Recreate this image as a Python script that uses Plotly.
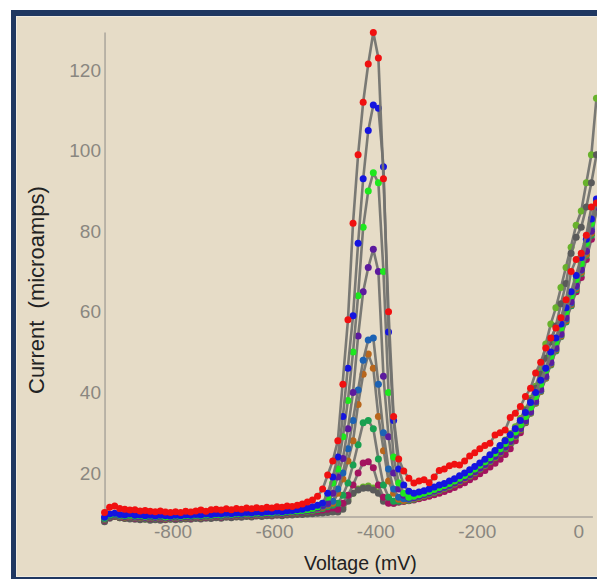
import plotly.graph_objects as go

# ---------------- data ----------------
voltage = [-935, -925, -915, -905, -895, -885, -875, -865, -855, -845,
           -835, -825, -815, -805, -795, -785, -775, -765, -755, -745,
           -735, -725, -715, -705, -695, -685, -675, -665, -655, -645,
           -635, -625, -615, -605, -595, -585, -575, -565, -555, -545,
           -535, -525, -515, -505, -495, -485, -475, -465, -455, -445,
           -435, -425, -415, -405, -395, -385, -375, -365, -355, -345,
           -335, -325, -315, -305, -295, -285, -275, -265, -255, -245,
           -235, -225, -215, -205, -195, -185, -175, -165, -155, -145,
           -135, -125, -115, -105, -95, -85, -75, -65, -55, -45,
           -35, -25, -15, -5, 5, 15, 25, 35]

olive = [8.2, 9.0, 9.2, 8.9, 8.8, 8.9, 8.7, 8.8, 8.6, 8.7,
         8.6, 8.7, 8.5, 8.6, 8.7, 8.6, 8.8, 8.7, 8.9, 8.8,
         9.0, 8.9, 9.1, 9.0, 9.2, 9.1, 9.3, 9.2, 9.4, 9.3,
         9.5, 9.4, 9.6, 9.5, 9.7, 9.6, 9.8, 9.9, 10.0, 10.1,
         10.2, 10.3, 10.4, 10.5, 10.6, 10.6, 10.5, 11.5, 13.5, 15.0,
         16.0, 16.5, 16.8, 16.3, 15.3, 13.5, 13.0, 13.0, 13.2, 13.5,
         13.7, 14.0, 14.4, 14.8, 15.3, 15.8, 16.3, 16.8, 17.3, 17.9,
         18.5, 19.2, 20.0, 20.9, 21.9, 23.0, 24.2, 25.4, 26.7, 28.2,
         29.8, 31.5, 33.5, 35.8, 38.5, 41.5, 45.5, 52.0, 57.0, 61.0,
         66.0, 71.0, 76.0, 81.5, 85.0, 92.0, 99.0, 113.0]

dark_gray = [7.9, 8.8, 9.2, 8.9, 8.7, 8.6, 8.5, 8.4, 8.5, 8.3,
             8.4, 8.3, 8.4, 8.5, 8.4, 8.5, 8.6, 8.5, 8.7, 8.6,
             8.8, 8.7, 8.9, 8.8, 9.0, 8.9, 9.1, 9.0, 9.2, 9.1,
             9.3, 9.2, 9.4, 9.3, 9.5, 9.4, 9.6, 9.6, 9.7, 9.7,
             9.8, 9.9, 10.0, 10.1, 10.2, 10.3, 10.3, 11.0, 13.0, 15.0,
             15.8, 16.2, 16.3, 15.8, 15.0, 13.0, 12.6, 12.5, 12.8, 13.0,
             13.3, 13.8, 14.0, 14.5, 15.2, 15.5, 16.0, 16.5, 16.8, 17.2,
             17.8, 18.5, 19.5, 20.5, 22.0, 23.0, 24.0, 25.0, 26.5, 28.0,
             29.5, 31.0, 33.0, 35.5, 38.0, 41.0, 44.5, 48.5, 52.5, 56.5,
             62.0, 67.0, 74.5, 78.5, 81.0, 86.0, 92.0, 99.0]

maroon = [8.3, 9.1, 9.3, 9.0, 8.9, 9.0, 8.8, 8.9, 8.7, 8.8,
          8.7, 8.8, 8.6, 8.7, 8.8, 8.7, 8.9, 8.8, 9.0, 8.9,
          9.1, 9.0, 9.2, 9.1, 9.3, 9.2, 9.4, 9.3, 9.5, 9.4,
          9.6, 9.5, 9.7, 9.6, 9.8, 9.7, 9.9, 10.0, 10.1, 10.2,
          10.3, 10.4, 10.6, 10.8, 11.0, 11.3, 11.0, 12.5, 14.5, 17.0,
          20.0, 22.5, 22.8, 21.3, 17.0, 14.0, 12.5, 12.5, 12.8, 13.0,
          13.1, 13.3, 13.6, 13.9, 14.2, 14.6, 15.0, 15.4, 15.9, 16.4,
          17.0, 17.6, 18.3, 19.0, 19.8, 20.6, 21.5, 22.4, 23.4, 24.6,
          26.0, 28.0, 30.0, 32.5, 35.3, 38.5, 42.0, 45.5, 48.5, 51.5,
          55.0, 59.0, 61.5, 65.0, 68.5, 73.0, 78.0, 85.5]

teal = [8.4, 9.2, 9.4, 9.1, 9.0, 9.1, 8.9, 9.0, 8.8, 8.9,
        8.8, 8.9, 8.7, 8.8, 8.9, 8.8, 9.0, 8.9, 9.1, 9.0,
        9.2, 9.1, 9.3, 9.2, 9.4, 9.3, 9.5, 9.4, 9.6, 9.5,
        9.7, 9.6, 9.8, 9.7, 9.9, 9.8, 10.0, 10.1, 10.2, 10.3,
        10.4, 10.6, 10.9, 11.2, 11.6, 12.0, 12.5, 14.5, 17.5, 22.0,
        27.0, 32.5, 33.0, 31.0, 23.5, 17.0, 14.0, 13.0, 13.0, 13.1,
        13.2, 13.5, 13.9, 14.3, 14.7, 15.1, 15.6, 16.1, 16.6, 17.2,
        17.8, 18.5, 19.2, 20.0, 20.9, 21.8, 22.8, 23.8, 24.9, 26.1,
        27.5, 29.0, 30.7, 32.6, 34.8, 37.3, 40.2, 43.5, 46.8, 50.3,
        53.8, 57.5, 61.5, 65.5, 69.5, 74.0, 79.0, 85.5]

brown = [8.5, 9.3, 9.5, 9.2, 9.1, 9.2, 9.0, 9.1, 8.9, 9.0,
         8.9, 9.0, 8.8, 8.9, 9.0, 8.9, 9.1, 9.0, 9.2, 9.1,
         9.3, 9.2, 9.4, 9.3, 9.5, 9.4, 9.6, 9.5, 9.7, 9.6,
         9.8, 9.7, 9.9, 9.8, 10.0, 9.9, 10.1, 10.2, 10.3, 10.4,
         10.6, 10.8, 11.1, 11.5, 12.0, 12.5, 15.0, 18.5, 23.0, 28.0,
         37.0, 44.5, 49.5, 46.0, 34.0, 25.5, 18.0, 15.0, 13.5, 13.2,
         13.3, 13.6, 14.0, 14.4, 14.8, 15.3, 15.7, 16.2, 16.7, 17.3,
         17.9, 18.6, 19.3, 20.1, 21.0, 21.9, 22.9, 23.9, 25.0, 26.2,
         27.6, 29.1, 30.8, 32.7, 34.9, 37.4, 40.3, 43.6, 47.0, 50.5,
         54.0, 57.8, 61.8, 65.8, 69.8, 74.3, 79.5, 86.0]

steel_blue = [8.7, 9.5, 9.7, 9.4, 9.3, 9.4, 9.2, 9.3, 9.1, 9.2,
              9.1, 9.2, 9.0, 9.1, 9.2, 9.1, 9.3, 9.2, 9.4, 9.3,
              9.5, 9.4, 9.6, 9.5, 9.7, 9.6, 9.8, 9.7, 9.9, 9.8,
              10.0, 9.9, 10.1, 10.0, 10.2, 10.1, 10.3, 10.4, 10.5, 10.6,
              10.8, 11.0, 11.3, 11.8, 12.3, 13.0, 16.0, 20.0, 26.0, 33.0,
              40.6, 48.0, 53.0, 53.5, 42.0, 30.0, 21.0, 16.0, 14.0, 13.6,
              13.5, 13.8, 14.2, 14.6, 15.0, 15.5, 15.9, 16.4, 16.9, 17.5,
              18.1, 18.8, 19.5, 20.3, 21.2, 22.1, 23.1, 24.1, 25.2, 26.4,
              27.8, 29.3, 31.0, 32.9, 35.1, 37.6, 40.5, 43.8, 47.3, 50.8,
              54.3, 58.2, 62.2, 66.2, 70.3, 75.0, 80.5, 87.5]

purple = [8.6, 9.4, 9.6, 9.3, 9.2, 9.3, 9.1, 9.2, 9.0, 9.1,
          9.0, 9.1, 8.9, 9.0, 9.1, 9.0, 9.2, 9.1, 9.3, 9.2,
          9.4, 9.3, 9.5, 9.4, 9.6, 9.5, 9.7, 9.6, 9.8, 9.7,
          9.9, 9.8, 10.0, 9.9, 10.1, 10.0, 10.2, 10.3, 10.4, 10.5,
          10.7, 11.0, 11.4, 12.0, 12.5, 15.0, 19.0, 23.6, 31.0, 40.0,
          54.0, 65.0, 71.0, 75.5, 70.0, 44.0, 29.0, 20.0, 16.0, 14.5,
          13.8, 13.9, 14.3, 14.7, 15.1, 15.6, 16.0, 16.5, 17.0, 17.6,
          18.2, 18.9, 19.6, 20.4, 21.3, 22.2, 23.2, 24.2, 25.3, 26.5,
          27.9, 29.4, 31.1, 33.0, 35.2, 37.8, 40.7, 44.0, 47.5, 51.0,
          54.5, 58.5, 62.5, 66.5, 70.5, 75.0, 80.0, 86.0]

bright_green = [8.8, 9.6, 9.8, 9.5, 9.4, 9.5, 9.3, 9.4, 9.2, 9.3,
                9.2, 9.3, 9.1, 9.2, 9.3, 9.2, 9.4, 9.3, 9.5, 9.4,
                9.6, 9.5, 9.7, 9.6, 9.8, 9.7, 9.9, 9.8, 10.0, 9.9,
                10.1, 10.0, 10.2, 10.1, 10.3, 10.2, 10.4, 10.5, 10.6, 10.7,
                10.9, 11.2, 11.6, 12.5, 14.0, 17.5, 21.0, 29.0, 38.0, 50.0,
                64.0, 81.0, 90.0, 94.5, 92.0, 70.0, 40.0, 24.0, 17.5, 15.0,
                14.0, 14.2, 14.6, 15.0, 15.4, 15.9, 16.4, 16.9, 17.4, 18.0,
                18.7, 19.4, 20.2, 21.0, 21.9, 22.8, 23.8, 24.9, 26.0, 27.3,
                28.7, 30.2, 32.0, 34.0, 36.3, 39.0, 42.0, 45.5, 49.0, 52.5,
                56.0, 60.0, 64.0, 68.0, 72.0, 77.0, 82.0, 87.0]

blue = [9.0, 9.8, 10.0, 9.7, 9.6, 9.8, 9.5, 9.6, 9.4, 9.5,
        9.3, 9.5, 9.4, 9.3, 9.5, 9.4, 9.6, 9.5, 9.7, 9.6,
        9.8, 9.7, 9.9, 9.8, 10.0, 9.9, 10.1, 10.0, 10.2, 10.1,
        10.3, 10.2, 10.4, 10.3, 10.5, 10.4, 10.6, 10.7, 10.9, 11.0,
        11.3, 11.6, 12.0, 12.5, 15.0, 19.0, 24.0, 34.0, 46.0, 59.0,
        77.0, 93.0, 105.0, 111.3, 110.5, 96.0, 55.0, 33.0, 21.0, 17.0,
        15.5, 15.0, 15.3, 15.6, 16.0, 16.5, 17.0, 17.4, 18.0, 18.6,
        19.3, 20.0, 20.8, 21.6, 22.5, 23.4, 24.5, 25.6, 26.8, 28.0,
        29.5, 31.0, 33.0, 35.0, 37.5, 40.0, 43.0, 46.0, 50.0, 53.5,
        57.0, 61.0, 65.0, 69.0, 73.5, 78.0, 83.0, 88.0]

red = [10.2, 11.5, 11.8, 11.2, 11.0, 10.8, 10.9, 10.6, 10.7, 10.5,
       10.4, 10.6, 10.3, 10.2, 10.4, 10.2, 10.5, 10.3, 10.6, 10.8,
       10.5, 10.9, 11.0, 10.8, 11.1, 10.9, 11.2, 11.0, 11.3, 11.1,
       11.4, 11.2, 11.5, 11.3, 11.6, 11.5, 11.8, 11.7, 12.0, 12.3,
       12.8, 13.3, 14.2, 16.0, 19.5, 23.0, 28.0, 42.0, 58.0, 82.0,
       99.0, 112.0, 121.5, 129.3, 123.0, 93.0, 60.0, 34.0, 23.5, 20.5,
       18.7, 17.5, 18.0, 18.3, 17.6, 19.0, 20.6, 21.0, 21.8, 22.2,
       22.0, 23.0, 24.2, 25.0, 26.0, 26.8, 27.4, 29.4, 30.0, 30.7,
       33.8, 34.8, 36.5, 39.0, 41.0, 44.8, 47.5, 51.0, 53.5, 56.0,
       58.5, 63.0, 70.0, 73.0, 74.5, 79.0, 86.0, 87.0]

series = [
    ("olive", olive, "#68b22c"),
    ("dark gray", dark_gray, "#5a5a5a"),
    ("maroon", maroon, "#a3135f"),
    ("teal", teal, "#19a050"),
    ("brown", brown, "#b8661c"),
    ("steel blue", steel_blue, "#1c62b4"),
    ("purple", purple, "#5c1a9e"),
    ("bright green", bright_green, "#1ee81e"),
    ("blue", blue, "#1414e0"),
    ("red", red, "#f01010"),
]

x_ticks = [-800, -600, -400, -200, 0]
y_ticks = [20, 40, 60, 80, 100, 120]

# ---------------- layout constants ----------------
OFF = 8                      # page body margin in the browser
W, H = 605 - OFF, 579 - OFF  # figure size so that it fills the window
L, R, T, B = 94, 6, 18, 55
PW, PH = W - L - R, H - T - B
BEIGE = "#e6dcc7"
NAVY = "#1f3761"


def px(xwin):
    return (xwin - OFF - L) / PW


def py(ywin):
    return (H - B - (ywin - OFF)) / PH


fig = go.Figure()
for name, vals, col in series:
    n = min(len(voltage), len(vals))
    fig.add_trace(go.Scatter(
        x=voltage[:n], y=vals[:n], mode="lines+markers", name=name,
        line=dict(color="rgba(115,115,112,0.95)", width=2.6),
        marker=dict(color=col, size=7, line=dict(width=0)),
        cliponaxis=False, showlegend=False, hoverinfo="skip"))

shapes = [
    dict(type="rect", xref="paper", yref="paper", x0=px(11), x1=px(640),
         y0=py(10), y1=py(640), fillcolor=NAVY, line=dict(width=0), layer="below"),
    dict(type="rect", xref="paper", yref="paper", x0=px(16), x1=px(640),
         y0=py(16), y1=py(577), fillcolor="#efeadf", line=dict(width=0), layer="below"),
    dict(type="rect", xref="paper", yref="paper", x0=px(17), x1=px(640),
         y0=py(17), y1=py(576), fillcolor=BEIGE, line=dict(width=0), layer="below"),
    # axis lines
    dict(type="line", xref="x", yref="y", x0=-934, x1=28, y0=9.1, y1=9.1,
         line=dict(color="#aaa59c", width=1.5), layer="below"),
    dict(type="line", xref="x", yref="y", x0=-934, x1=-934, y0=9.1, y1=129.3,
         line=dict(color="#aaa59c", width=1.5), layer="below"),
]

fig.update_layout(
    width=W, height=H,
    margin=dict(l=L, r=R, t=T, b=B, pad=0),
    paper_bgcolor="white",
    plot_bgcolor="rgba(0,0,0,0)",
    shapes=shapes,
    font=dict(family="Liberation Sans, Arial, sans-serif"),
    xaxis=dict(range=[-940, 40], showgrid=False, zeroline=False, showline=False,
               tickmode="array", tickvals=x_ticks, ticktext=[str(v) for v in x_ticks],
               ticks="", ticklabelstandoff=-6, tickfont=dict(size=19, color="#8a8780")),
    yaxis=dict(range=[7.345, 130.92], showgrid=False, zeroline=False, showline=False,
               tickmode="array", tickvals=y_ticks, ticktext=[str(v) for v in y_ticks],
               ticks="", tickfont=dict(size=19, color="#8a8780")),
    annotations=[
        dict(text="Voltage (mV)", xref="paper", yref="paper", x=px(360), y=py(563),
             xanchor="center", yanchor="middle", showarrow=False,
             font=dict(size=19.5, color="#222222")),
        dict(text="Current\u00a0 (microamps)", xref="paper", yref="paper", x=px(37), y=py(290),
             xanchor="center", yanchor="middle", showarrow=False, textangle=-90,
             font=dict(size=22, color="#222222")),
    ],
)

fig.write_html("out.html")
